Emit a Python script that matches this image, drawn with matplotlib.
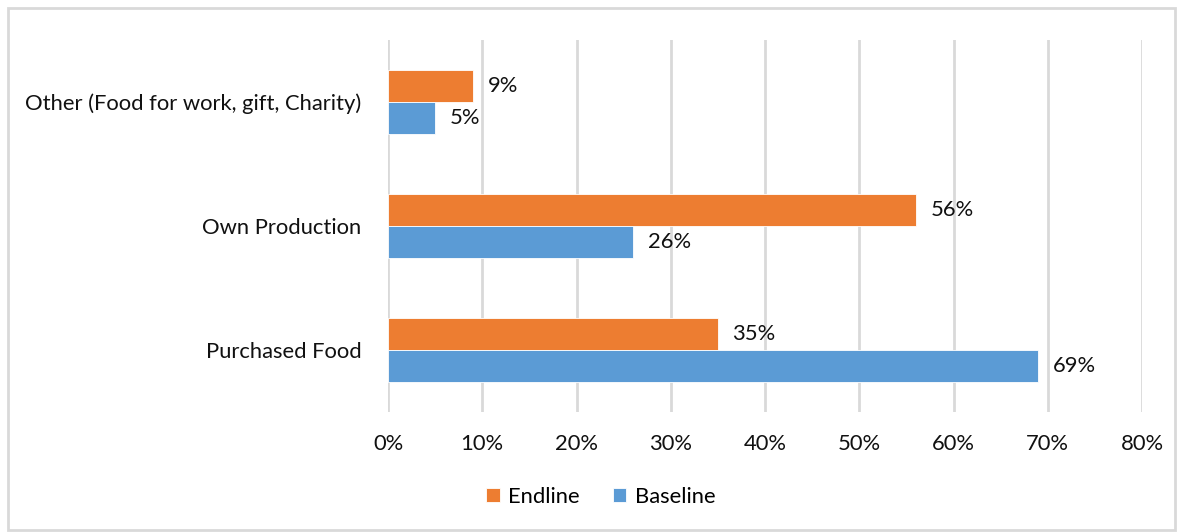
import matplotlib.pyplot as plt
from matplotlib.patches import Rectangle
import numpy as np

plt.rcParams['font.family'] = ['Lato', 'DejaVu Sans']

# food sources, bottom to top
categories = ['Purchased Food', 'Own Production', 'Other (Food for work, gift, Charity)']
endline = [35, 56, 9]
baseline = [69, 26, 5]
xticks = [0, 10, 20, 30, 40, 50, 60, 70, 80]

orange = '#ED7D31'
blue = '#5B9BD5'
grid = '#D9D9D9'
txt = '#111111'
fs = 15.8

fig = plt.figure(figsize=(11.82, 5.32), dpi=100)
ax = fig.add_axes([388/1182, 1 - 412/532, (1142 - 388)/1182, 372/532])

y = np.arange(len(categories))
h = 0.26
b1 = ax.barh(y + h/2, endline, height=h, color=orange, edgecolor='white', linewidth=0.6, label='Endline', zorder=3)
b2 = ax.barh(y - h/2, baseline, height=h, color=blue, edgecolor='white', linewidth=0.6, label='Baseline', zorder=3)

for bars, vals in ((b1, endline), (b2, baseline)):
    for bar, v in zip(bars, vals):
        ax.annotate(f'{v}%', (v, bar.get_y() + bar.get_height()/2),
                    xytext=(10.5, 0), textcoords='offset points',
                    ha='left', va='center', fontsize=fs, color=txt)

ax.set_xlim(0, 80)
ax.set_ylim(-0.5, 2.5)
ax.set_xticks(xticks)
ax.set_xticklabels([f'{t}%' for t in xticks], fontsize=fs, color=txt)
ax.set_yticks(y)
ax.set_yticklabels(categories, fontsize=fs, color=txt)
ax.tick_params(axis='both', length=0)
ax.tick_params(axis='x', pad=16)
ax.tick_params(axis='y', pad=19)
ax.xaxis.grid(True, color=grid, linewidth=2, zorder=0)
for s in ax.spines.values():
    s.set_visible(False)

fig.legend(handles=[b1, b2], loc='center', bbox_to_anchor=(601/1182, 1 - 497/532),
           ncol=2, frameon=False, fontsize=fs, handlelength=0.6, handleheight=0.6,
           handletextpad=0.4, columnspacing=1.5)

# outer chart border
fig.patches.append(Rectangle((8/1182, 2/532), 1167/1182, 522/532, transform=fig.transFigure,
                             fill=False, edgecolor=grid, linewidth=2))

fig.savefig('out.png', dpi=100)
